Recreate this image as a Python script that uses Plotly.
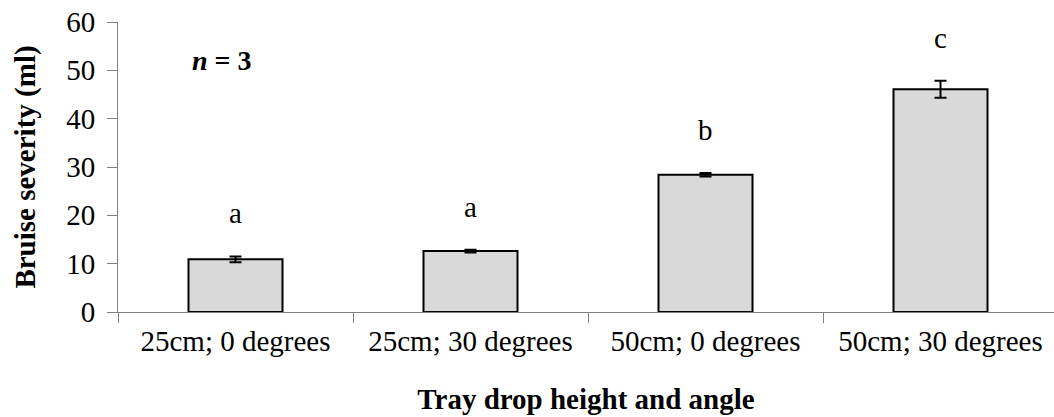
import plotly.graph_objects as go

categories = ["25cm; 0 degrees", "25cm; 30 degrees", "50cm; 0 degrees", "50cm; 30 degrees"]
severity = [10.9, 12.6, 28.4, 46.1]
sem = [0.6, 0.3, 0.35, 1.75]
letters = ["a", "a", "b", "c"]
y_ticks = [0, 10, 20, 30, 40, 50, 60]

FONT = "Liberation Serif, Times New Roman, serif"
AXIS_COLOR = "#7f7f7f"

fig = go.Figure()
fig.add_trace(go.Bar(
    x=categories,
    y=severity,
    width=0.4,
    marker=dict(color="#d9d9d9", line=dict(color="black", width=2)),
    error_y=dict(type="data", array=sem, visible=True, color="black", thickness=2, width=6),
    showlegend=False,
))

for cat, v, e, lab in zip(categories, severity, sem, letters):
    fig.add_annotation(x=cat, y=v + e, text=lab, showarrow=False, xref="x", yref="y",
                       yanchor="bottom", yshift=25,
                       font=dict(family=FONT, size=29, color="black"))

fig.add_annotation(x=0.111, y=52, xref="paper", yref="y", xanchor="center", yanchor="middle",
                   showarrow=False,
                   text="<b><i>n</i> = 3</b>", font=dict(family=FONT, size=28, color="black"))

fig.update_layout(
    width=1054, height=417,
    margin=dict(l=118, r=0, t=22, b=105, autoexpand=False),
    plot_bgcolor="white", paper_bgcolor="white",
    font=dict(family=FONT, size=28, color="black"),
    bargap=0.6,
)
fig.update_xaxes(
    type="category",
    range=[-0.5, 3.483],
    automargin=False,
    showline=True, linecolor=AXIS_COLOR, linewidth=1,
    ticks="outside", tickson="boundaries", ticklen=10, tickcolor=AXIS_COLOR,
    tickfont=dict(family=FONT, size=29, color="black"),
    ticklabelstandoff=3,
    title=dict(text="<b>Tray drop height and angle</b>", font=dict(family=FONT, size=29, color="black"), standoff=32),
    showgrid=False, zeroline=False,
)
fig.update_yaxes(
    range=[0, 60],
    tickvals=y_ticks,
    automargin=False,
    showline=True, linecolor=AXIS_COLOR, linewidth=1,
    ticks="outside", ticklen=10, tickcolor=AXIS_COLOR,
    tickfont=dict(family=FONT, size=29, color="black"),
    ticklabelstandoff=6,
    title=dict(text="<b>Bruise severity (ml)</b>", font=dict(family=FONT, size=29, color="black"), standoff=22),
    showgrid=False, zeroline=False,
)

fig.write_html("out.html", config={"displayModeBar": False},
               post_script="document.body.style.margin='0px';document.body.style.overflow='hidden';")
